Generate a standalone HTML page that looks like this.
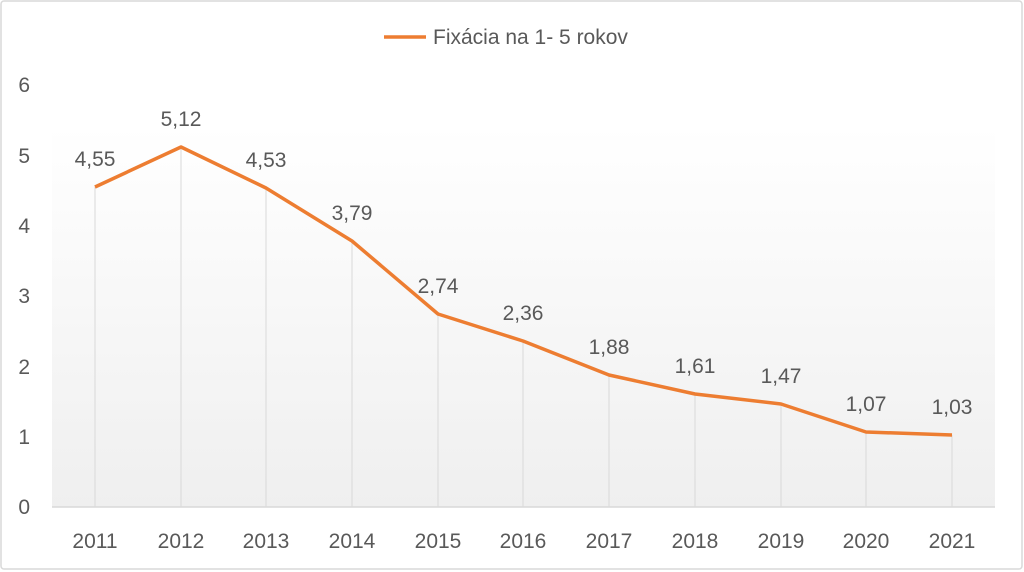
<!DOCTYPE html>
<html><head><style>body{margin:0;background:#fff}svg{display:block}</style></head><body>
<svg width="1024" height="572" xmlns="http://www.w3.org/2000/svg" font-family="Liberation Sans, sans-serif">
<defs><linearGradient id="g" x1="0" y1="0" x2="0" y2="1"><stop offset="0.1" stop-color="#fff"/><stop offset="1" stop-color="#efefef"/></linearGradient></defs>
<rect x="1" y="1" width="1021" height="568" rx="3" fill="#fff" stroke="#d9d9d9" stroke-width="1.5"/>
<rect x="52" y="84" width="943" height="423" fill="url(#g)"/>
<g stroke="#d9d9d9" stroke-width="1">
<line x1="95" y1="187" x2="95" y2="507"/><line x1="181" y1="147" x2="181" y2="507"/><line x1="266" y1="188" x2="266" y2="507"/><line x1="352" y1="241" x2="352" y2="507"/><line x1="438" y1="314" x2="438" y2="507"/><line x1="523" y1="341" x2="523" y2="507"/><line x1="609" y1="375" x2="609" y2="507"/><line x1="695" y1="394" x2="695" y2="507"/><line x1="781" y1="404" x2="781" y2="507"/><line x1="866" y1="432" x2="866" y2="507"/><line x1="952" y1="435" x2="952" y2="507"/>
</g>
<line x1="52" y1="507" x2="995" y2="507" stroke="#d9d9d9" stroke-width="1.5"/>
<polyline fill="none" stroke="#ed7d31" stroke-width="3.5" stroke-linejoin="round" points="95,187 181,147 266,188 352,241 438,314 523,341 609,375 695,394 781,404 866,432 952,435"/>
<line x1="384" y1="37" x2="426" y2="37" stroke="#ed7d31" stroke-width="3.5"/>
<g fill="#595959" font-size="21">
<text x="433" y="44">Fixácia na 1- 5 rokov</text>
<g text-anchor="end"><text x="30" y="92">6</text><text x="30" y="163">5</text><text x="30" y="233">4</text><text x="30" y="303">3</text><text x="30" y="374">2</text><text x="30" y="444">1</text><text x="30" y="514">0</text></g>
<g text-anchor="middle">
<text x="95" y="548">2011</text><text x="181" y="548">2012</text><text x="266" y="548">2013</text><text x="352" y="548">2014</text><text x="438" y="548">2015</text><text x="523" y="548">2016</text><text x="609" y="548">2017</text><text x="695" y="548">2018</text><text x="781" y="548">2019</text><text x="866" y="548">2020</text><text x="952" y="548">2021</text>
<text x="95" y="166">4,55</text><text x="181" y="126">5,12</text><text x="266" y="167">4,53</text><text x="352" y="220">3,79</text><text x="438" y="293">2,74</text><text x="523" y="320">2,36</text><text x="609" y="354">1,88</text><text x="695" y="373">1,61</text><text x="781" y="383">1,47</text><text x="866" y="411">1,07</text><text x="952" y="414">1,03</text>
</g></g>
</svg>
</body></html>
